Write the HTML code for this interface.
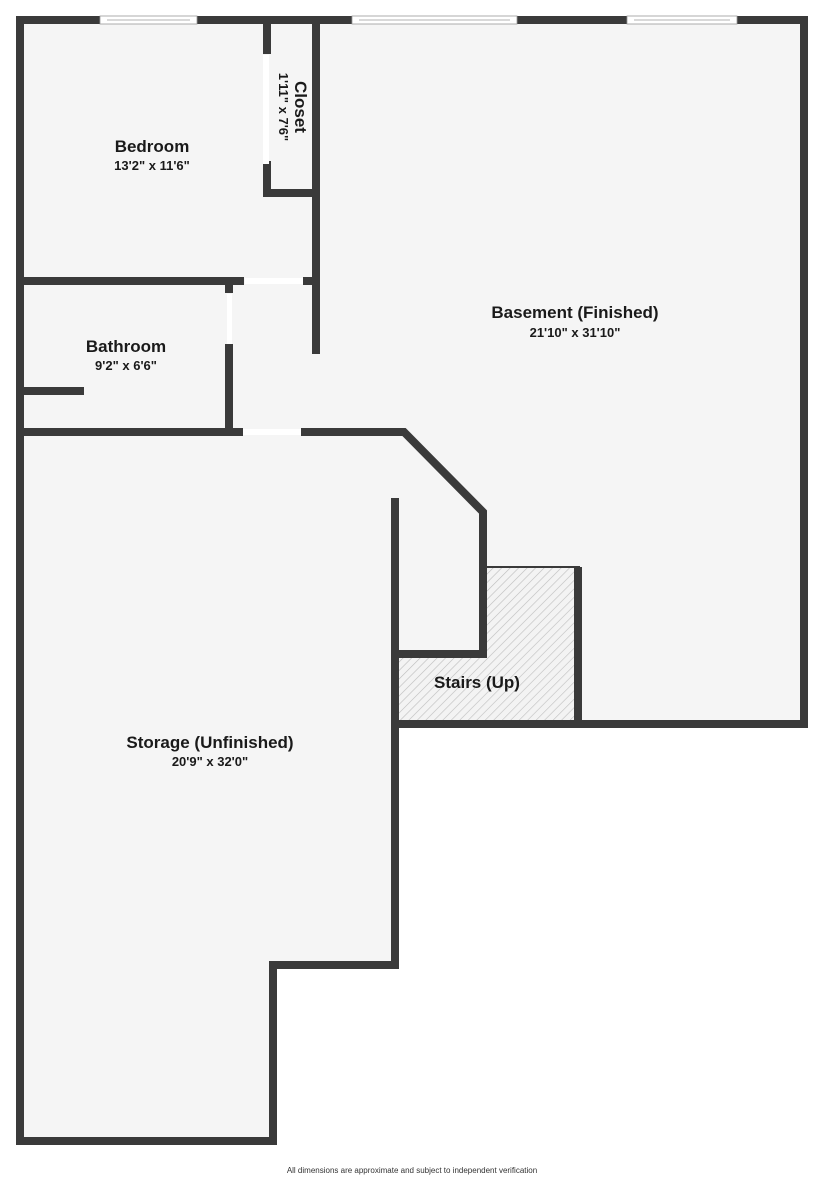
<!DOCTYPE html>
<html><head><meta charset="utf-8"><style>
html,body{margin:0;padding:0;background:#fff;}
svg{display:block;}
text{font-family:"Liberation Sans",sans-serif;fill:#1a1a1a;text-anchor:middle;}
.t{font-weight:bold;font-size:17px;}
.d{font-size:13px;font-weight:bold;}
</style></head><body>
<svg width="825" height="1179" viewBox="0 0 825 1179" xmlns="http://www.w3.org/2000/svg">
<defs>
<pattern id="h" width="6" height="6" patternUnits="userSpaceOnUse" patternTransform="rotate(45)">
<rect width="6" height="6" fill="#f3f3f3"/><line x1="0" y1="0" x2="0" y2="6" stroke="#bdbdbd" stroke-width="1.2"/>
</pattern>
</defs>
<polygon points="20,20 804,20 804,724 395,724 395,965 273,965 273,1141 20,1141" fill="#f5f5f5"/>
<polygon points="487,567 575,567 575,720 399,720 399,658 487,658" fill="url(#h)"/>
<line x1="487" y1="567" x2="580" y2="567" stroke="#3a3a3a" stroke-width="2"/>
<g stroke="#3a3a3a" stroke-width="8" fill="none" stroke-linecap="square">
<polyline points="804,20 804,724 395,724 395,965 273,965 273,1141 20,1141 20,20"/>
<line x1="20" y1="20" x2="100" y2="20"/>
<line x1="197" y1="20" x2="352" y2="20"/>
<line x1="517" y1="20" x2="627" y2="20"/>
<line x1="737" y1="20" x2="804" y2="20"/>
<line x1="267" y1="24" x2="267" y2="54" stroke-linecap="butt"/>
<polyline points="267,165 267,193 316,193" />
<line x1="316" y1="24" x2="316" y2="350"/>
<line x1="20" y1="281" x2="244" y2="281" stroke-linecap="butt"/>
<line x1="303" y1="281" x2="316" y2="281" stroke-linecap="butt"/>
<line x1="229" y1="285" x2="229" y2="293" stroke-linecap="butt"/>
<line x1="229" y1="344" x2="229" y2="432" stroke-linecap="butt"/>
<line x1="24" y1="391" x2="84" y2="391" stroke-linecap="butt"/>
<line x1="20" y1="432" x2="243" y2="432" stroke-linecap="butt"/>
<polyline points="301,432 404,432 483,512 483,654 395,654" stroke-linejoin="miter" stroke-linecap="butt"/>
<line x1="395" y1="502" x2="395" y2="724"/>
<line x1="578" y1="567" x2="578" y2="724" stroke-linecap="butt"/>
</g>
<g fill="#fff" stroke="#9a9a9a" stroke-width="0.8">
<rect x="100" y="16" width="97" height="8"/><line x1="107" y1="20" x2="190" y2="20"/>
<rect x="352" y="16" width="165" height="8"/><line x1="359" y1="20" x2="510" y2="20"/>
<rect x="627" y="16" width="110" height="8"/><line x1="634" y1="20" x2="730" y2="20"/>
</g>
<g fill="#fff">
<rect x="263" y="55" width="6" height="109"/>
<rect x="245" y="278" width="58" height="6"/>
<rect x="227" y="294" width="5" height="50"/>
<rect x="243" y="429" width="58" height="6"/>
</g>
<text class="t" x="152" y="152">Bedroom</text>
<text class="d" x="152" y="170">13'2" x 11'6"</text>
<text class="t" x="126" y="352">Bathroom</text>
<text class="d" x="126" y="370">9'2" x 6'6"</text>
<text class="t" x="575" y="318">Basement (Finished)</text>
<text class="d" x="575" y="337">21'10" x 31'10"</text>
<text class="t" x="210" y="748">Storage (Unfinished)</text>
<text class="d" x="210" y="766">20'9" x 32'0"</text>
<text class="t" x="477" y="688">Stairs (Up)</text>
<text class="t" transform="translate(295,107) rotate(90)">Closet</text>
<text class="d" transform="translate(279,107) rotate(90)">1'11" x 7'6"</text>
<text x="412" y="1173" style="font-size:8px;fill:#333">All dimensions are approximate and subject to independent verification</text>
</svg>
</body></html>
